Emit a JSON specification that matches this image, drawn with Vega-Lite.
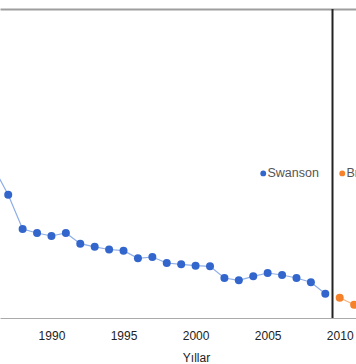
{
  "$schema": "https://vega.github.io/schema/vega-lite/v6.json",
  "autosize": "none",
  "width": 356,
  "height": 309,
  "padding": {"left": 0, "top": 9, "right": 0, "bottom": 46},
  "background": "white",
  "config": {
    "view": {"stroke": null},
    "font": "Liberation Sans"
  },
  "datasets": {
    "series": [
      {"year": 1986, "value": 150, "lider": "Swanson"},
      {"year": 1987, "value": 123.3, "lider": "Swanson"},
      {"year": 1988, "value": 89, "lider": "Swanson"},
      {"year": 1989, "value": 85, "lider": "Swanson"},
      {"year": 1990, "value": 82, "lider": "Swanson"},
      {"year": 1991, "value": 85, "lider": "Swanson"},
      {"year": 1992, "value": 74.3, "lider": "Swanson"},
      {"year": 1993, "value": 71.2, "lider": "Swanson"},
      {"year": 1994, "value": 68.5, "lider": "Swanson"},
      {"year": 1995, "value": 67.3, "lider": "Swanson"},
      {"year": 1996, "value": 59.7, "lider": "Swanson"},
      {"year": 1997, "value": 61, "lider": "Swanson"},
      {"year": 1998, "value": 55, "lider": "Swanson"},
      {"year": 1999, "value": 53.7, "lider": "Swanson"},
      {"year": 2000, "value": 52.3, "lider": "Swanson"},
      {"year": 2001, "value": 51.7, "lider": "Swanson"},
      {"year": 2002, "value": 40, "lider": "Swanson"},
      {"year": 2003, "value": 37.7, "lider": "Swanson"},
      {"year": 2004, "value": 41.7, "lider": "Swanson"},
      {"year": 2005, "value": 45, "lider": "Swanson"},
      {"year": 2006, "value": 43, "lider": "Swanson"},
      {"year": 2007, "value": 40, "lider": "Swanson"},
      {"year": 2008, "value": 35.7, "lider": "Swanson"},
      {"year": 2009, "value": 24.3, "lider": "Swanson"},
      {"year": 2010, "value": 20.3, "lider": "Brown"},
      {"year": 2011, "value": 13.3, "lider": "Brown"}
    ]
  },
  "encoding": {
    "x": {
      "field": "year", "type": "quantitative",
      "scale": {"domain": [1986.43, 2011.13], "nice": false, "zero": false},
      "axis": {
        "values": [1990, 1995, 2000, 2005, 2010],
        "format": "d",
        "grid": false,
        "ticks": false,
        "tickSize": 0,
        "labelPadding": 12,
        "labelFontSize": 12,
        "labelColor": "#222",
        "domainColor": "#aaaaaa",
        "domainWidth": 1,
        "title": "Yıllar",
        "titleFontSize": 12,
        "titleFontWeight": "normal",
        "titleColor": "#222",
        "titleX": 196,
        "titleY": 39,
        "titleBaseline": "middle",
        "titleAnchor": "middle"
      }
    },
    "y": {
      "field": "value", "type": "quantitative",
      "scale": {"domain": [0, 309], "nice": false},
      "axis": {
        "values": [309],
        "grid": true,
        "gridColor": "#9e9e9e",
        "gridWidth": 2,
        "labels": false,
        "ticks": false,
        "domain": false,
        "title": null
      }
    }
  },
  "layer": [
    {
      "data": {"name": "series"},
      "transform": [{"filter": "datum.lider === 'Swanson'"}],
      "mark": {"type": "line", "clip": true, "strokeWidth": 1.2, "color": "#8eaee6"}
    },
    {
      "data": {"name": "series"},
      "transform": [{"filter": "datum.lider === 'Brown'"}],
      "mark": {"type": "line", "clip": true, "strokeWidth": 1.2, "color": "#f8b37f"}
    },
    {
      "data": {"name": "series"},
      "mark": {"type": "point", "clip": true, "filled": true, "size": 64, "opacity": 1},
      "encoding": {
        "color": {
          "field": "lider", "type": "nominal",
          "scale": {"domain": ["Swanson", "Brown"], "range": ["#3366cc", "#f5822a"]},
          "legend": {
            "orient": "none",
            "legendX": 257,
            "legendY": 158,
            "direction": "horizontal",
            "title": null,
            "symbolType": "circle",
            "symbolSize": 34,
            "symbolStrokeWidth": 0,
            "symbolOpacity": 1,
            "labelFontSize": 12.5,
            "labelColor": "#555",
            "labelOffset": -2,
            "columnPadding": 17
          }
        }
      }
    },
    {
      "data": {"values": [{"sinir": 2009.5}]},
      "mark": {"type": "rule", "color": "#222", "strokeWidth": 2},
      "encoding": {
        "x": {"field": "sinir", "type": "quantitative"},
        "y": null
      }
    }
  ]
}
